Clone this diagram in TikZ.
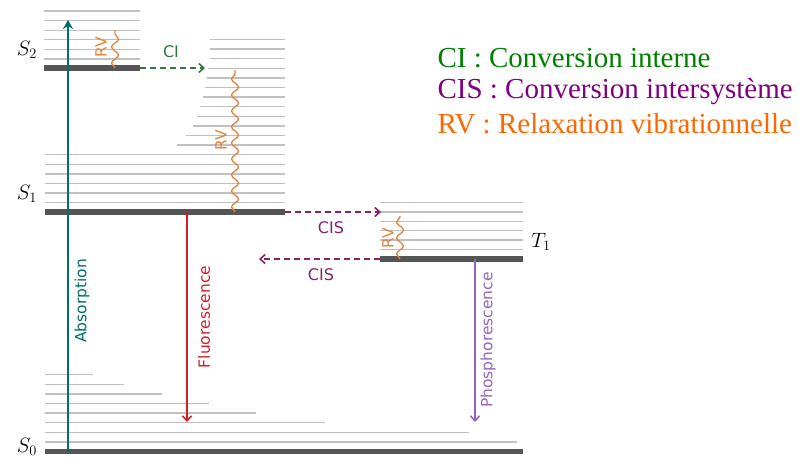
\documentclass[tikz,border=0pt]{standalone}
\usepackage{fontspec}
\setmainfont{Liberation Serif}
\setsansfont{DejaVu Sans}
\usetikzlibrary{arrows.meta, decorations.pathmorphing}

\definecolor{levelgray}{RGB}{85,85,85}
\definecolor{subgray}{RGB}{192,192,192}
\definecolor{abscol}{RGB}{0,110,105}
\definecolor{fluocol}{RGB}{210,30,40}
\definecolor{phoscol}{RGB}{150,100,190}
\definecolor{cicol}{RGB}{50,120,60}
\definecolor{ciscol}{RGB}{140,30,110}
\definecolor{rvcol}{RGB}{230,130,60}
\definecolor{legGreen}{RGB}{0,128,0}
\definecolor{legPurple}{RGB}{128,0,128}
\definecolor{legOrange}{RGB}{255,102,0}

\begin{document}
\begin{tikzpicture}[
    x=1pt, y=-1pt,
    >={Straight Barb[length=5pt, width=9pt, line width=1.6pt]},
    level/.style={line width=5.5pt, draw=levelgray},
    sublevel/.style={line width=1.3pt, draw=subgray},
    transition/.style={->, line width=2pt},
    nonrad/.style={->, line width=2.3pt, dash pattern=on 6pt off 4pt},
    rvline/.style={draw=rvcol, line width=1.3pt, decorate,
      decoration={snake, amplitude=3.5pt, segment length=16pt}},
    vlabel/.style={rotate=90, font=\sffamily\fontsize{15.5}{18}\selectfont},
    hlabel/.style={font=\sffamily\fontsize{16}{18}\selectfont},
    statelabel/.style={font=\fontsize{20}{22}\selectfont},
    legend/.style={anchor=west, font=\fontsize{29}{33}\selectfont}
  ]
  \useasboundingbox (0,0) rectangle (799,461);

  %--- vibrational sublevels ---
  % S2
  \foreach \k in {0,...,5}
    \draw[sublevel] (44,{11+9.6*\k}) -- (140,{11+9.6*\k});
  % S1 (quasi-continuum)
  \foreach \k/\xs in {0/210,1/210,2/210,3/208,4/207,5/205,6/203,7/200,8/197,
      9/193,10/186,11/177,12/45,13/45,14/45,15/45,16/45,17/45}
    \draw[sublevel] (\xs,{39.5+9.6*\k}) -- (285,{39.5+9.6*\k});
  % T1
  \foreach \k in {0,...,5}
    \draw[sublevel] (380,{202.5+9.4*\k}) -- (523,{202.5+9.4*\k});
  % S0
  \foreach \k/\xe in {0/93,1/124,2/162,3/209,4/256,5/325,6/469,7/517}
    \draw[sublevel] (45,{374.7+9.6*\k}) -- (\xe,{374.7+9.6*\k});

  %--- electronic levels ---
  \coordinate (S2L) at (44,68);   \coordinate (S2R) at (140,68);
  \coordinate (S1L) at (45,212);  \coordinate (S1R) at (285,212);
  \coordinate (T1L) at (380,259); \coordinate (T1R) at (523,259);
  \coordinate (S0L) at (45,451.5); \coordinate (S0R) at (523,451.5);

  \draw[level] (S2L) -- (S2R);
  \draw[level] (S1L) -- (S1R);
  \draw[level] (T1L) -- (T1R);
  \draw[level] (S0L) -- (S0R);

  \node[statelabel] (labS2) at (27,50)  {$S_2$};
  \node[statelabel] (labS1) at (27,194) {$S_1$};
  \node[statelabel] (labS0) at (27,447) {$S_0$};
  \node[statelabel] (labT1) at (541,242) {$T_1$};

  %--- radiative transitions ---
  \coordinate (absBot) at (68,451.5);
  \coordinate (absTop) at (68,20);
  \draw[->, >={Stealth[length=9pt, width=10pt]}, line width=2.6pt, draw=abscol]
    (absBot) -- (absTop);
  \node[vlabel, text=abscol] (absLab) at (82,301) {Absorption};

  \coordinate (fluoTop) at (187,212);
  \coordinate (fluoBot) at (187,422);
  \draw[transition, draw=fluocol] (fluoTop) -- (fluoBot);
  \node[vlabel, text=fluocol] (fluoLab) at (204,317) {Fluorescence};

  \coordinate (phosTop) at (475,259);
  \coordinate (phosBot) at (475,422);
  \draw[transition, draw=phoscol] (phosTop) -- (phosBot);
  \node[vlabel, text=phoscol] (phosLab) at (488,340) {Phosphorescence};

  %--- non-radiative transitions ---
  \coordinate (ciEnd) at (205,68);
  \draw[nonrad, draw=cicol] (S2R) -- (ciEnd);
  \node[hlabel, text=cicol] (ciLab) at (171,52) {CI};

  \coordinate (cisEnd) at (381,212);
  \draw[nonrad, draw=ciscol] (S1R) -- (cisEnd);
  \node[hlabel, text=ciscol] (cisLabA) at (331,228) {CIS};

  \coordinate (cisBack) at (259,259);
  \draw[nonrad, draw=ciscol] (T1L) -- (cisBack);
  \node[hlabel, text=ciscol] (cisLabB) at (321,275) {CIS};

  %--- vibrational relaxation ---
  \coordinate (rvS2) at (115,30);
  \draw[rvline] (115,68) -- (rvS2);
  \node[vlabel, text=rvcol] (rvLabA) at (101,47) {RV};

  \coordinate (rvS1) at (235,70);
  \draw[rvline] (235,212) -- (rvS1);
  \node[vlabel, text=rvcol] (rvLabB) at (221,140) {RV};

  \coordinate (rvT1) at (400,216);
  \draw[rvline] (400,259) -- (rvT1);
  \node[vlabel, text=rvcol] (rvLabC) at (388,238) {RV};

  %--- legend ---
  \node[legend, text=legGreen]  (legCI)  at (434,58)  {CI : Conversion interne};
  \node[legend, text=legPurple] (legCIS) at (434,92)  {CIS : Conversion intersystème};
  \node[legend, text=legOrange] (legRV)  at (434,124) {RV : Relaxation vibrationnelle};
\end{tikzpicture}
\end{document}
